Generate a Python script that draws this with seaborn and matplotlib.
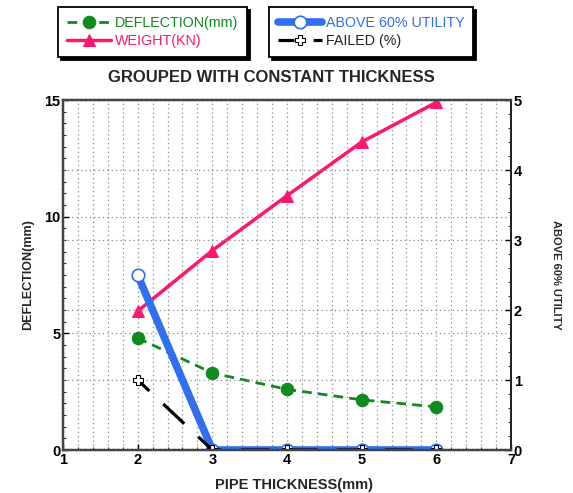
import matplotlib
matplotlib.use("Agg")
import matplotlib.pyplot as plt
from matplotlib.ticker import MultipleLocator
import seaborn as sns
import numpy as np

sns.set_style("white")
plt.rcParams["font.family"] = ["Liberation Sans", "DejaVu Sans"]

# Data
thickness = [2, 3, 4, 5, 6]
deflection = [4.8, 3.3, 2.6, 2.15, 1.85]
weight = [5.95, 8.55, 10.9, 13.2, 14.9]
above_utility = [2.5, 0, 0, 0, 0]
failed_pct = [1, 0, 0, 0, 0]

GREEN = "#0f8a1e"
PINK = "#ff1670"
BLUE = "#2f6ff0"
GRID = "#8a8a8a"

fig = plt.figure(figsize=(5.73, 4.93), dpi=100)
ax = fig.add_axes([63 / 573, 43 / 493, 448 / 573, 350 / 493])
ax2 = ax.twinx()

sns.lineplot(x=thickness, y=deflection, ax=ax, color=GREEN, linestyle=(0, (3.5, 2.2)),
             linewidth=2.0, marker="o", markersize=9, markeredgecolor=GREEN,
             label="DEFLECTION(mm)", legend=False)
sns.lineplot(x=thickness, y=weight, ax=ax, color=PINK, linewidth=2.5,
             marker="^", markersize=8, markeredgecolor=PINK,
             label="WEIGHT(KN)", legend=False)
sns.lineplot(x=thickness, y=above_utility, ax=ax2, color=BLUE, linewidth=5.5,
             marker="o", markersize=9, markerfacecolor="white",
             markeredgecolor=BLUE, markeredgewidth=1.2,
             label="ABOVE 60% UTILITY", legend=False)
sns.lineplot(x=thickness, y=failed_pct, ax=ax2, color="black", linewidth=2.3,
             linestyle=(4, (9, 6)), marker="P", markersize=7.5,
             markerfacecolor="white", markeredgecolor="black", markeredgewidth=0.8,
             label="FAILED (%)", legend=False)

# Axes ranges and ticks
ax.set_xlim(1, 7)
ax.set_ylim(0, 15)
ax2.set_ylim(0, 5)
ax.set_xticks([1, 2, 3, 4, 5, 6, 7])
ax.xaxis.set_minor_locator(MultipleLocator(0.2))
ax.set_yticks([0, 5, 10, 15])
ax.yaxis.set_minor_locator(MultipleLocator(0.5))
ax2.set_yticks([0, 1, 2, 3, 4, 5])
ax2.yaxis.set_minor_locator(MultipleLocator(0.2))

for a in (ax, ax2):
    a.tick_params(which="major", direction="in", length=4, width=1, pad=2,
                  labelsize=10.5, colors="black")
    a.tick_params(which="minor", direction="in", length=2.5, width=0.8, color="#333")
    for lab in a.get_xticklabels() + a.get_yticklabels():
        lab.set_fontweight("bold")
ax.tick_params(axis="y", which="both", right=False)
ax.tick_params(axis="x", which="both", top=False, bottom=True)
ax2.tick_params(axis="y", which="both", left=False)

# Dotted grid: vertical every 0.2, horizontal at both axes' major ticks
ax.grid(True, which="minor", axis="x", color=GRID, linestyle=(0, (1, 2.5)), linewidth=0.9)
ax.grid(True, which="major", axis="x", color=GRID, linestyle=(0, (1, 2.5)), linewidth=0.9)
ax.grid(True, which="major", axis="y", color=GRID, linestyle=(0, (1, 2.5)), linewidth=0.9)
ax2.grid(True, which="major", axis="y", color=GRID, linestyle=(0, (1, 2.5)), linewidth=0.9)

for a in (ax, ax2):
    for side in ("top", "left", "bottom"):
        a.spines[side].set_color("#444")
        a.spines[side].set_linewidth(1.6)
        a.spines[side].set_linestyle((0, (1.5, 0.6)))
    a.spines["right"].set_color("#222")
    a.spines["right"].set_linewidth(1.4)

ax.set_xlabel("PIPE THICKNESS(mm)", fontsize=10.5, fontweight="bold", labelpad=8,
              x=0.516)
ax.set_ylabel("DEFLECTION(mm)", fontsize=9, fontweight="bold", labelpad=7)
ax2.set_ylabel("ABOVE 60% UTILITY", fontsize=8, fontweight="bold",
               rotation=-90, labelpad=28)
ax.set_title("GROUPED WITH CONSTANT THICKNESS", fontsize=12, fontweight="bold", pad=13,
             x=0.465)

# Legends above the plot, framed with a hard shadow
h1, l1 = ax.get_legend_handles_labels()
h2, l2 = ax2.get_legend_handles_labels()
common = dict(frameon=True, fancybox=False, edgecolor="black", framealpha=1,
              shadow={"color": "black", "alpha": 1}, fontsize=10.3,
              handlelength=3.1, handletextpad=0.25, labelspacing=0.32,
              borderpad=0.62, borderaxespad=0)
leg1 = fig.legend(h1, l1, loc="upper left", bbox_to_anchor=(58 / 573, 1 - 7 / 493),
                  labelcolor=[GREEN, PINK], **common)
leg1.get_frame().set_linewidth(1.3)
leg2 = fig.legend(h2, l2, loc="upper left", bbox_to_anchor=(269 / 573, 1 - 7 / 493),
                  labelcolor=[BLUE, "#222"], **common)
leg2.get_frame().set_linewidth(1.3)

fig.savefig("out.png", dpi=100)
